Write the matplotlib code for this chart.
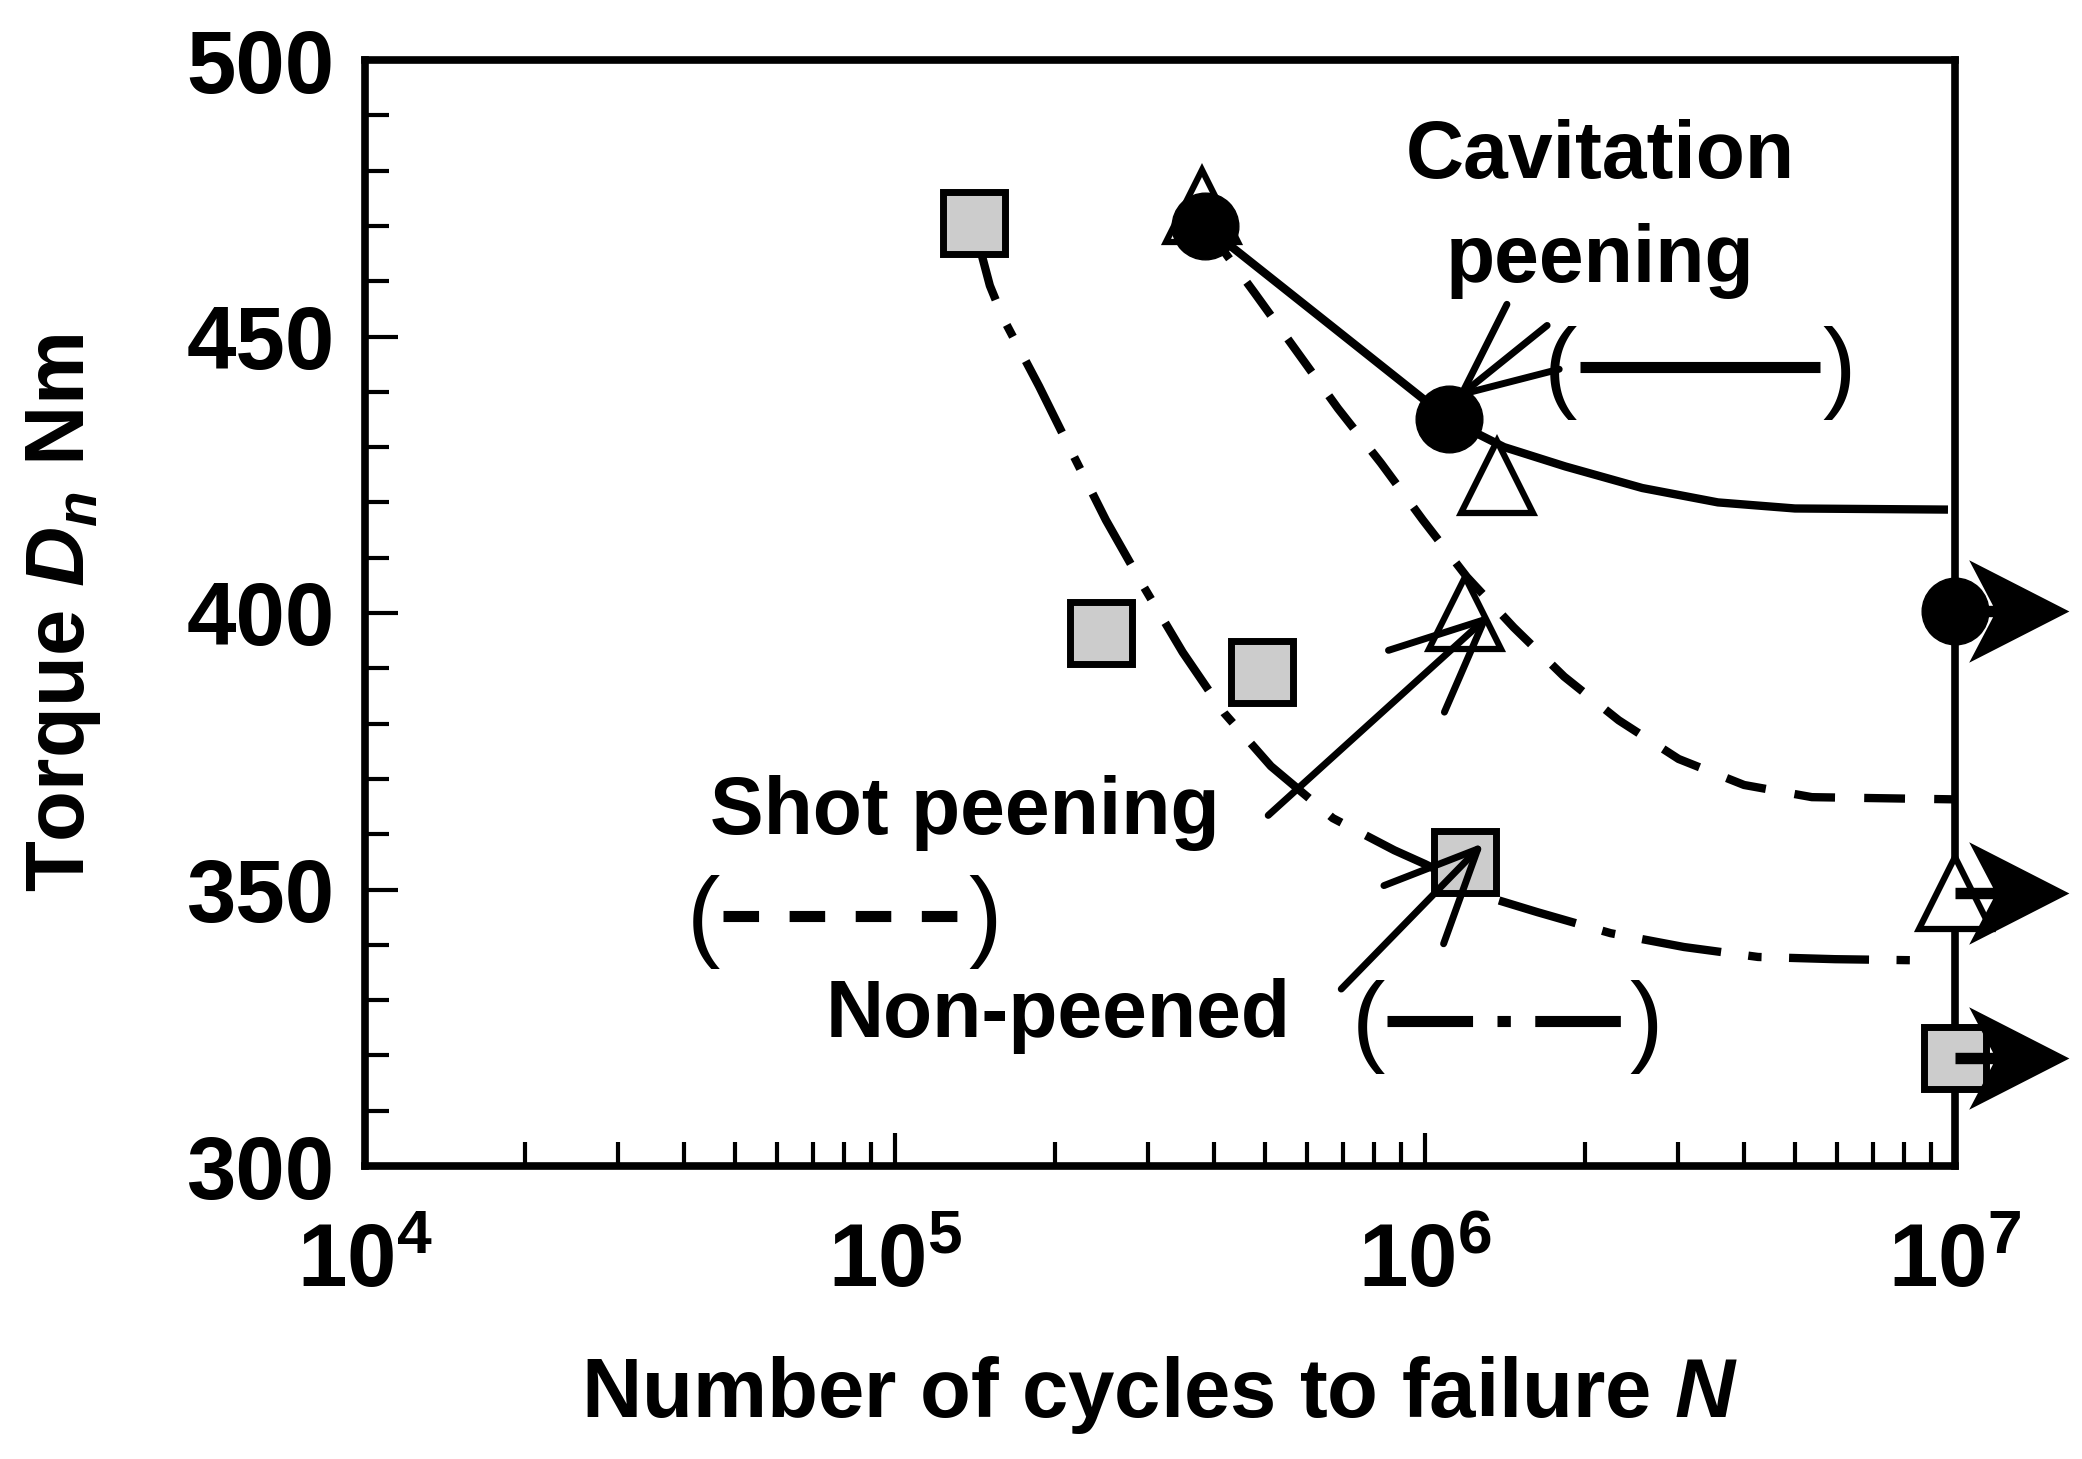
import math
import matplotlib
matplotlib.use('Agg')
import matplotlib.pyplot as plt
from matplotlib.path import Path
from matplotlib.ticker import MultipleLocator, FuncFormatter, LogLocator

plt.rcParams['font.family'] = ['Liberation Sans', 'DejaVu Sans']
plt.rcParams['font.weight'] = 'bold'
plt.rcParams['mathtext.fontset'] = 'custom'
plt.rcParams['mathtext.rm'] = 'Liberation Sans:bold'
plt.rcParams['mathtext.it'] = 'Liberation Sans:italic:bold'
plt.rcParams['mathtext.bf'] = 'Liberation Sans:bold'

# Non-peened (squares)
nonp_N = [1.41e5, 2.45e5, 4.92e5, 1.19e6]
nonp_T = [470.5, 396.3, 389.3, 355.0]
nonp_run_N = [1e7]
nonp_run_T = [319.5]
# Shot peening (triangles)
shot_N = [3.8e5, 1.37e6, 1.19e6]
shot_T = [473.6, 424.6, 400.0]
shot_run_N = [1e7]
shot_run_T = [349.4]
# Cavitation peening (circles)
cav_N = [3.85e5, 1.11e6]
cav_T = [470.0, 435.0]
cav_run_N = [1e7]
cav_run_T = [400.4]

# S-N curves
cav_curve_N = [3.85e5, 6.56e5, 1.11e6, 1.41e6, 1.84e6, 2.57e6, 3.57e6, 4.99e6, 9.7e6]
cav_curve_T = [470.0, 452.4, 435.0, 430.0, 426.5, 422.6, 420.0, 418.9, 418.7]
shot_curve_N = [3.85e5, 4.76e5, 5.71e5, 6.85e5, 8.26e5, 9.91e5, 1.20e6, 1.47e6, 1.83e6, 2.32e6,
                3.01e6, 4.00e6, 5.37e6, 1e7]
shot_curve_T = [470.0, 458.0, 447.5, 437.0, 427.1, 416.8, 406.5, 397.4, 388.5, 380.6,
                373.6, 368.9, 366.7, 366.3]
nonp_curve_N = [1.405e5, 1.51e5, 1.60e5, 1.87e5, 2.16e5, 2.50e5, 2.94e5, 3.49e5, 4.18e5, 5.12e5,
                6.70e5, 8.75e5, 1.0e6, 1.37e6, 1.63e6, 2.24e6, 3.08e6, 4.25e6, 5.94e6, 8.48e6]
nonp_curve_T = [470.5, 459.2, 453.3, 441.0, 428.9, 416.8, 404.9, 392.9, 381.9, 372.3,
                362.9, 357.1, 354.6, 348.1, 345.9, 342.1, 339.6, 337.8, 337.4, 337.2]

fig = plt.figure(figsize=(20.82, 14.59), dpi=100)
ax = fig.add_axes([365/2082, 1 - 1166/1459, 1590/2082, 1106/1459])

lw = 6
ax.plot(cav_curve_N, cav_curve_T, color='k', lw=lw, solid_capstyle='butt', zorder=2)
ax.plot(shot_curve_N, shot_curve_T, color='k', lw=lw, dashes=[4.9, 3.5], zorder=2)
ax.plot(nonp_curve_N, nonp_curve_T, color='k', lw=lw, dashes=[9.6, 3.3, 1.6, 3.3], zorder=2)

ax.plot(nonp_N + nonp_run_N, nonp_T + nonp_run_T, 's', ms=44, mfc='#cccccc', mec='k',
        mew=5, clip_on=False, zorder=3)
ax.plot(shot_N + shot_run_N, shot_T + shot_run_T, '^', ms=52, mfc='white', mec='k',
        mew=4.5, clip_on=False, zorder=3)
ax.plot(cav_N + cav_run_N, cav_T + cav_run_T, 'o', ms=48, mfc='k', mec='k',
        clip_on=False, zorder=4)

# run-out arrows
run_arrow = Path([(0, 0.05), (0.33, 0.05), (0.12, 0.45), (1.0, 0), (0.12, -0.45),
                  (0.33, -0.05), (0, -0.05), (0, 0.05)],
                 [Path.MOVETO] + [Path.LINETO] * 6 + [Path.CLOSEPOLY])
run_N = cav_run_N + shot_run_N + nonp_run_N
run_T = cav_run_T + shot_run_T + nonp_run_T
ax.plot(run_N, run_T, ls='none', marker=run_arrow, ms=164, mfc='k', mec='k', mew=0,
        clip_on=False, zorder=6)

ax.set_xscale('log')
ax.set_xlim(1e4, 1e7)
ax.set_ylim(300, 500)
ax.yaxis.set_major_locator(MultipleLocator(50))
ax.yaxis.set_minor_locator(MultipleLocator(10))
ax.xaxis.set_major_locator(LogLocator(base=10))
ax.xaxis.set_minor_locator(LogLocator(base=10, subs=range(2, 10)))
ax.xaxis.set_major_formatter(FuncFormatter(lambda v, p: r'$\mathbf{10^{%d}}$' % round(math.log10(v))))

ax.tick_params(which='both', direction='in', top=False, right=False, width=3)
ax.tick_params(which='major', length=24, labelsize=64)
ax.tick_params(which='minor', length=17)
ax.tick_params(axis='y', pad=22)
ax.tick_params(axis='x', pad=40)
for s in ax.spines.values():
    s.set_linewidth(5.5)

ax.set_xlabel('Number of cycles to failure $N$', fontsize=60, fontweight='bold')
ax.set_ylabel('Torque $D_n$ Nm', fontsize=60, fontweight='bold')
ax.xaxis.set_label_coords(0.5, -0.17)
ax.yaxis.set_label_coords(-0.165, 0.5)

# labels with arrows
arr = dict(arrowstyle='->,head_length=3.3,head_width=1.5', color='k', lw=5,
           mutation_scale=20, shrinkA=0, shrinkB=0)
ax.annotate('', xy=(1.14e6, 438.6), xytext=(1.70e6, 452), arrowprops=arr, zorder=7)
ax.annotate('', xy=(1.33e6, 399.8), xytext=(5.06e5, 363.4), arrowprops=arr, zorder=7)
ax.annotate('', xy=(1.29e6, 358.4), xytext=(6.95e5, 332), arrowprops=arr, zorder=7)

ts = 58
ax.text(0.777, 0.912, 'Cavitation', transform=ax.transAxes, ha='center', va='center', fontsize=ts)
ax.text(0.777, 0.818, 'peening', transform=ax.transAxes, ha='center', va='center', fontsize=ts)
ax.text(0.377, 0.319, 'Shot peening', transform=ax.transAxes, ha='center', va='center', fontsize=ts)
ax.text(0.436, 0.136, 'Non-peened', transform=ax.transAxes, ha='center', va='center', fontsize=ts)

# parenthesised line-style keys
keys = [(0.752, 0.927, 0.722, dict(ls='-')),
        (0.213, 0.390, 0.226, dict(dashes=[3.2, 2.75])),
        (0.631, 0.806, 0.131, dict(dashes=[7.7, 2.2, 1.2, 2.2]))]
for x0, x1, y, style in keys:
    ax.text(x0, y - 0.005, '(', transform=ax.transAxes, ha='center', va='center',
            fontsize=72, fontweight='normal')
    ax.text(x1, y - 0.005, ')', transform=ax.transAxes, ha='center', va='center',
            fontsize=72, fontweight='normal')
    ax.plot([x0 + 0.012, x1 - 0.012], [y, y], color='k', lw=8, transform=ax.transAxes,
            solid_capstyle='butt', **style)

fig.savefig('out.png', dpi=100)
